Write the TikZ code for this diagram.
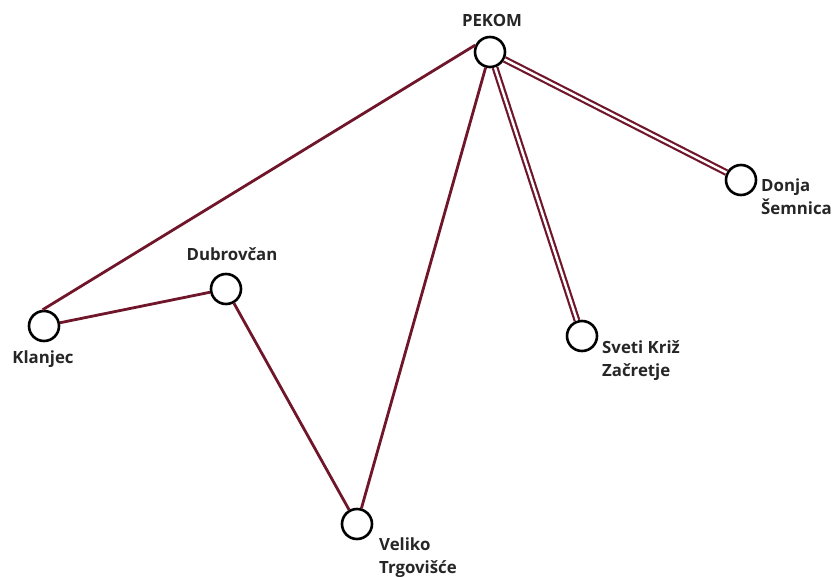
\documentclass[tikz,border=0pt]{standalone}
\usepackage{fontspec}
\setmainfont{Open Sans}
\definecolor{edgecol}{RGB}{112,22,42}
\begin{document}
\begin{tikzpicture}[x=1pt,y=-1pt,
  town/.style={circle,draw=black,line width=2.6pt,fill=white,minimum size=30pt,inner sep=0pt},
  lbl/.style={font=\fontsize{16.8}{23}\selectfont\bfseries,text=black!85,inner sep=0pt},
  road/.style={draw=edgecol,line width=2.8pt},
  droad/.style={draw=edgecol,line width=2.2pt,double=white,double distance=2.4pt}]
\useasboundingbox (0,0) rectangle (837,577);
\node[town] (pekom) at (490,52) {};
\node[town] (donja) at (741,180) {};
\node[town] (sveti) at (582,336) {};
\node[town] (veliko) at (357,524) {};
\node[town] (klanjec) at (44,326) {};
\node[town] (dubr) at (226,289) {};
\draw[road] (pekom.155) -- (klanjec.95);
\draw[road] (klanjec) -- (dubr);
\draw[road] (dubr) -- (veliko);
\draw[road] (veliko) -- (pekom);
\draw[droad] (pekom) -- (sveti);
\draw[droad] (pekom) -- (donja);
\node[lbl] (tpekom) at (492,20) {PEKOM};
\node[lbl,anchor=west,align=left] (tdonja) at (761,197) {Donja\\Šemnica};
\node[lbl,anchor=west,align=left] (tsveti) at (602,361) {Sveti Križ\\Začretje};
\node[lbl,anchor=west,align=left] (tveliko) at (379,558) {Veliko\\Trgovišće};
\node[lbl] (tklanjec) at (43,359) {Klanjec};
\node[lbl] (tdubr) at (232,254) {Dubrovčan};
\end{tikzpicture}
\end{document}
